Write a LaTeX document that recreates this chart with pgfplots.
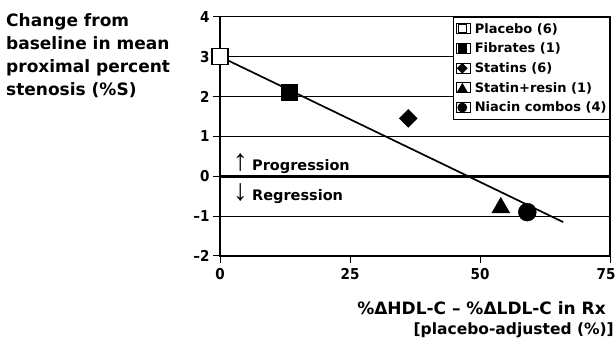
\documentclass[border=0pt]{standalone}
\usepackage{pgfplots}
\pgfplotsset{compat=1.18}
\usepackage{fontspec}
\setmainfont{DejaVu Sans}
\newfontfamily\condfont{DejaVu Sans Condensed}
\newfontfamily\arrowfont{Liberation Sans}
\begin{document}
\begin{tikzpicture}
\useasboundingbox (0,0) rectangle (616bp,343bp);
\begin{axis}[
  at={(220bp,87bp)}, anchor=south west,
  scale only axis, width=390bp, height=239.3bp,
  xmin=0, xmax=75, ymin=-2, ymax=4,
  xtick={0,25,50,75}, xticklabels={0,25,50,\hspace*{-8bp}75},
  ytick={-2,-1,0,1,2,3,4}, yticklabels={–2,–1,0,1,2,3,4},
  xtick pos=left, ytick pos=left,
  tick align=outside, major tick length=7bp,
  tick style={black, line width=1bp},
  ymajorgrids, grid style={black, line width=1bp},
  axis line style={black, line width=1.2bp},
  /pgf/number format/assume math mode=true,
  ticklabel style={font=\condfont\bfseries\fontsize{15bp}{16bp}\selectfont},
  xticklabel style={yshift=-2bp},
  legend cell align=left,
  legend style={at={(rel axis cs:1,1)}, anchor=north east,
    draw=black, line width=1bp, fill=white,
    inner xsep=2bp, inner ysep=5bp, row sep=6.3bp,
    nodes={inner sep=1bp},
    /tikz/every even column/.append style={column sep=2bp},
    font=\bfseries\fontsize{13bp}{14bp}\selectfont},
  clip=false,
]
% zero line
\draw[line width=2.8bp] (axis cs:0,0) -- (axis cs:75,0);
% regression line
\addplot[black, line width=1.7bp, no marks, forget plot] coordinates {(0,3) (66,-1.15)};
% data points
\addplot[forget plot, only marks, mark=square*, mark size=8bp, mark options={fill=white, draw=black, line width=1.2bp}] coordinates {(0,3)};
\addplot[forget plot, only marks, mark=square*, mark size=8bp, mark options={fill=black, draw=black}] coordinates {(13.3,2.1)};
\addplot[forget plot, only marks, mark=square*, mark size=6.4bp, mark options={fill=black, draw=black, rotate=45}] coordinates {(36.2,1.45)};
\addplot[forget plot, only marks, mark=triangle*, mark size=10.4bp, mark options={fill=black, draw=black}] coordinates {(54,-0.79)};
\addplot[forget plot, only marks, mark=*, mark size=9bp, mark options={fill=black, draw=black}] coordinates {(59.1,-0.9)};
% legend
\addlegendimage{legend image code/.code={\path (0bp,-5bp) rectangle (14bp,5bp); \draw[mark=square*, mark size=4bp, mark options={fill=white, draw=black, line width=1bp}] plot coordinates {(6bp,0bp)};}}
\addlegendentry{\hspace*{3bp}Placebo (6)}
\addlegendimage{legend image code/.code={\path (0bp,-5bp) rectangle (14bp,5bp); \draw[mark=square*, mark size=4bp, mark options={fill=black, draw=black}] plot coordinates {(6bp,0bp)};}}
\addlegendentry{\hspace*{3bp}Fibrates (1)}
\addlegendimage{legend image code/.code={\path (0bp,-5bp) rectangle (14bp,5bp); \draw[mark=square*, mark size=3.3bp, mark options={fill=black, draw=black, rotate=45}] plot coordinates {(6bp,0bp)};}}
\addlegendentry{\hspace*{3bp}Statins (6)}
\addlegendimage{legend image code/.code={\path (0bp,-5bp) rectangle (14bp,5bp); \draw[mark=triangle*, mark size=5.2bp, mark options={fill=black, draw=black}] plot coordinates {(6bp,-1.2bp)};}}
\addlegendentry{\hspace*{3bp}Statin+resin (1)}
\addlegendimage{legend image code/.code={\path (0bp,-5bp) rectangle (14bp,5bp); \draw[mark=*, mark size=4.4bp, mark options={fill=black, draw=black}] plot coordinates {(6bp,0bp)};}}
\addlegendentry{\hspace*{3bp}Niacin combos (4)}
% annotations
\node[inner sep=0] at (axis cs:3.9,0.35) {\arrowfont\fontsize{30bp}{30bp}\selectfont ↑};
\node[anchor=base west, inner sep=0, font=\bfseries\fontsize{14.5bp}{16bp}\selectfont] at (axis cs:6.15,0.14) {Progression};
\node[inner sep=0] at (axis cs:3.9,-0.40) {\arrowfont\fontsize{30bp}{30bp}\selectfont ↓};
\node[anchor=base west, inner sep=0, font=\bfseries\fontsize{14.5bp}{16bp}\selectfont] at (axis cs:6.15,-0.615) {Regression};
\end{axis}
\node[anchor=north west, align=left, inner sep=0, font=\bfseries\fontsize{17bp}{23bp}\selectfont] at (6bp,330bp) {Change from\\baseline in mean\\proximal percent\\stenosis (\%S)};
\node[anchor=base east, inner sep=0, font=\bfseries\fontsize{17bp}{21bp}\selectfont] at (606bp,29bp) {\%ΔHDL-C – \%ΔLDL-C in Rx};
\node[anchor=base east, inner sep=0, font=\bfseries\fontsize{15.5bp}{21bp}\selectfont] at (614bp,9bp) {[placebo-adjusted (\%)]};
\end{tikzpicture}
\end{document}
